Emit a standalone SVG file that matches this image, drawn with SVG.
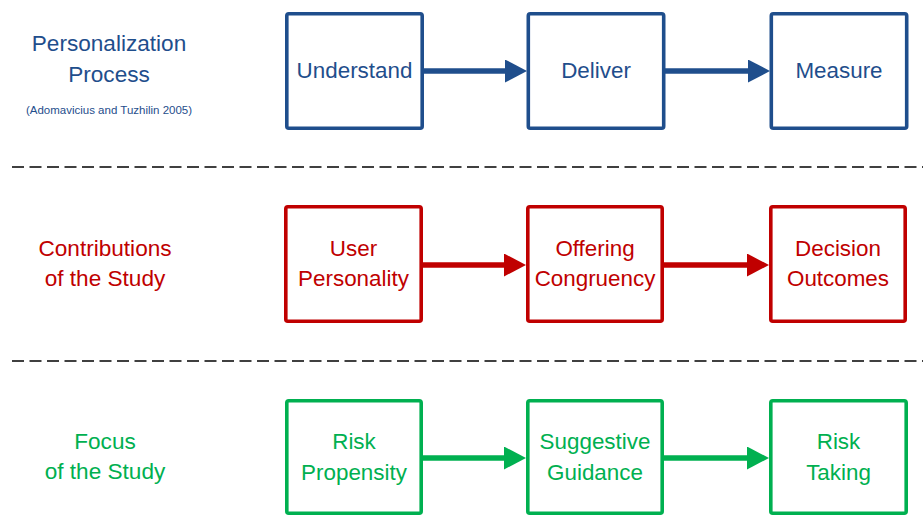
<svg xmlns="http://www.w3.org/2000/svg" width="923" height="517" viewBox="0 0 923 517">
  <style>
    text { font-family: "Liberation Sans", Arial, sans-serif; text-anchor: middle; }
    .lbl { font-size: 22.6px; }
    .cite { font-size: 11.5px; }
    .nt { font-size: 22.4px; }
    .box { fill: #ffffff; stroke-width: 3.6; }
    .blue { fill: #1f4e8c; }
    .red { fill: #c00000; }
    .green { fill: #00b050; }
    .b-blue { stroke: #1f4e8c; }
    .b-red { stroke: #c00000; }
    .b-green { stroke: #00b050; }
    .sep { stroke: #404040; stroke-width: 2; stroke-dasharray: 12 5.5; fill: none; }
    .conn { fill: none; stroke-width: 5.6; }
  </style>
  <defs>
    <marker id="head-blue" markerUnits="userSpaceOnUse" markerWidth="23" markerHeight="24" refX="5" refY="11.5" orient="auto">
      <path d="M0,0 L22,11.5 L0,23 Z" fill="#1f4e8c"/>
    </marker>
    <marker id="head-red" markerUnits="userSpaceOnUse" markerWidth="23" markerHeight="24" refX="5" refY="11.5" orient="auto">
      <path d="M0,0 L22,11.5 L0,23 Z" fill="#c00000"/>
    </marker>
    <marker id="head-green" markerUnits="userSpaceOnUse" markerWidth="23" markerHeight="24" refX="5" refY="11.5" orient="auto">
      <path d="M0,0 L22,11.5 L0,23 Z" fill="#00b050"/>
    </marker>
  </defs>

  <rect width="923" height="517" fill="#ffffff"/>

  <!-- row labels -->
  <g id="label-personalization">
    <text class="lbl blue" x="109" y="51">Personalization</text>
    <text class="lbl blue" x="109" y="82">Process</text>
    <text class="cite blue" x="109" y="114">(Adomavicius and Tuzhilin 2005)</text>
  </g>
  <g id="label-contributions">
    <text class="lbl red" x="105" y="256">Contributions</text>
    <text class="lbl red" x="105" y="286">of the Study</text>
  </g>
  <g id="label-focus">
    <text class="lbl green" x="105" y="449">Focus</text>
    <text class="lbl green" x="105" y="479">of the Study</text>
  </g>

  <!-- separators -->
  <g id="separators">
    <line class="sep" x1="12" y1="167" x2="923" y2="167"/>
    <line class="sep" x1="12" y1="361" x2="923" y2="361"/>
  </g>

  <!-- row 1 -->
  <g id="understand">
    <rect class="box b-blue" x="286.8" y="13.8" width="135.4" height="114.4" rx="2"/>
    <text class="nt blue" x="354.5" y="78">Understand</text>
  </g>
  <g id="deliver">
    <rect class="box b-blue" x="528.3" y="13.8" width="135.4" height="114.4" rx="2"/>
    <text class="nt blue" x="596" y="78">Deliver</text>
  </g>
  <g id="measure">
    <rect class="box b-blue" x="771.3" y="13.8" width="135.4" height="114.4" rx="2"/>
    <text class="nt blue" x="839" y="78">Measure</text>
  </g>

  <!-- row 2 -->
  <g id="user-personality">
    <rect class="box b-red" x="285.8" y="206.8" width="135.4" height="114.4" rx="2"/>
    <text class="nt red" x="353.5" y="256">User</text>
    <text class="nt red" x="353.5" y="286">Personality</text>
  </g>
  <g id="offering-congruency">
    <rect class="box b-red" x="527.8" y="206.8" width="134.4" height="114.4" rx="2"/>
    <text class="nt red" x="595" y="256">Offering</text>
    <text class="nt red" x="595" y="286">Congruency</text>
  </g>
  <g id="decision-outcomes">
    <rect class="box b-red" x="770.8" y="206.8" width="134.4" height="114.4" rx="2"/>
    <text class="nt red" x="838" y="256">Decision</text>
    <text class="nt red" x="838" y="286">Outcomes</text>
  </g>

  <!-- row 3 -->
  <g id="risk-propensity">
    <rect class="box b-green" x="286.8" y="400.8" width="134.4" height="112.4" rx="2"/>
    <text class="nt green" x="354" y="449">Risk</text>
    <text class="nt green" x="354" y="480">Propensity</text>
  </g>
  <g id="suggestive-guidance">
    <rect class="box b-green" x="527.8" y="400.8" width="134.4" height="112.4" rx="2"/>
    <text class="nt green" x="595" y="449">Suggestive</text>
    <text class="nt green" x="595" y="480">Guidance</text>
  </g>
  <g id="risk-taking">
    <rect class="box b-green" x="770.8" y="400.8" width="135.4" height="112.4" rx="2"/>
    <text class="nt green" x="838.5" y="449">Risk</text>
    <text class="nt green" x="838.5" y="480">Taking</text>
  </g>

  <!-- connectors -->
  <g id="connectors">
    <line class="conn b-blue" x1="424" y1="71" x2="510" y2="71" marker-end="url(#head-blue)"/>
    <line class="conn b-blue" x1="665" y1="71" x2="753" y2="71" marker-end="url(#head-blue)"/>
    <line class="conn b-red" x1="423" y1="265" x2="509" y2="265" marker-end="url(#head-red)"/>
    <line class="conn b-red" x1="664" y1="265" x2="752" y2="265" marker-end="url(#head-red)"/>
    <line class="conn b-green" x1="423" y1="458" x2="509" y2="458" marker-end="url(#head-green)"/>
    <line class="conn b-green" x1="664" y1="458" x2="752" y2="458" marker-end="url(#head-green)"/>
  </g>
</svg>
